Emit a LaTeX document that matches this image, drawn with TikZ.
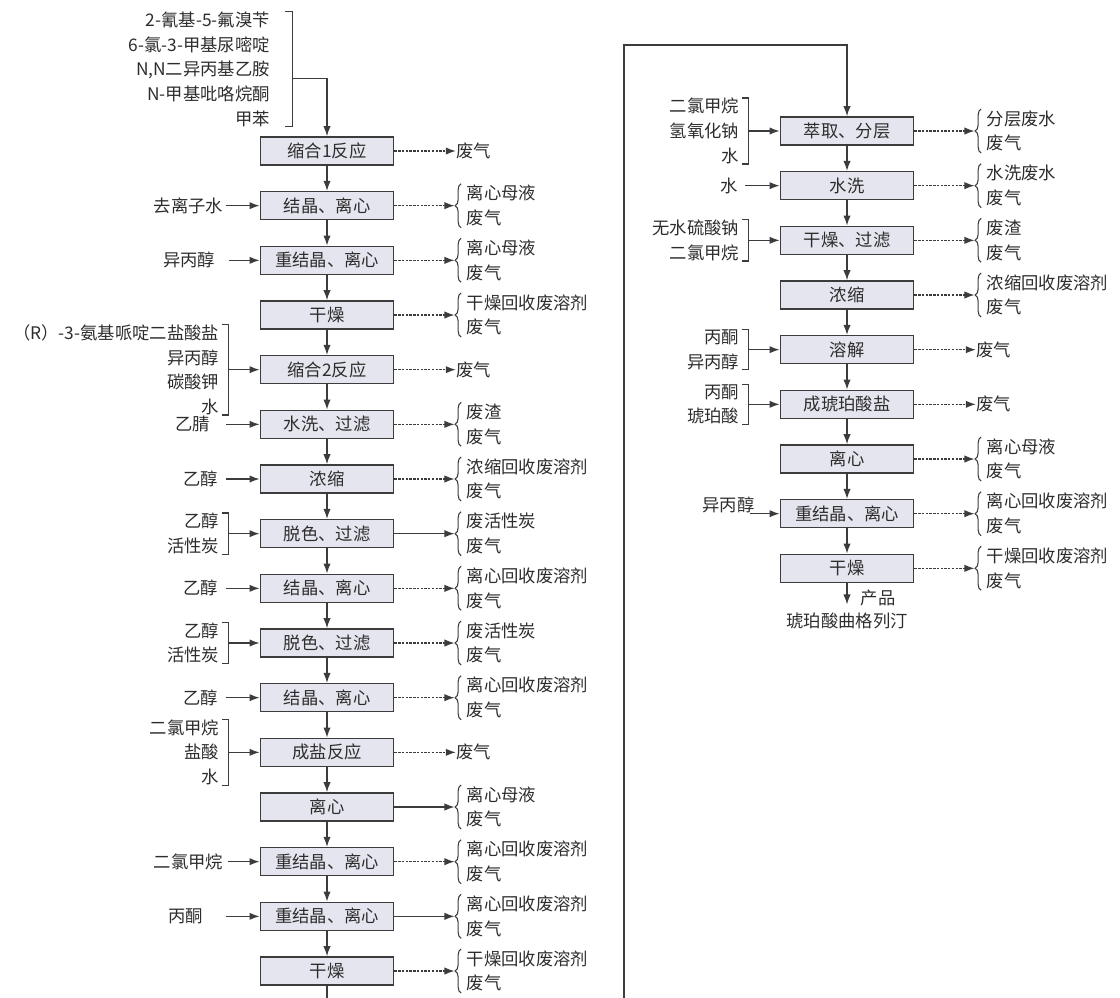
\documentclass[tikz,border=0pt]{standalone}
\usepackage{fontspec}
\setmainfont{Noto Sans CJK SC}
\usetikzlibrary{arrows.meta, positioning, calc, decorations.pathreplacing}
\definecolor{cBox}{RGB}{229,229,239}
\definecolor{cLine}{RGB}{60,60,60}
\definecolor{cText}{RGB}{45,45,45}
\tikzset{
  txt/.style={font=\fontsize{13}{18.5}\selectfont, text=cText},
  stepbox/.style={rectangle, draw=cLine, line width=1.2pt, fill=cBox,
                  minimum width=100pt, minimum height=21pt, inner sep=0pt, txt},
  innode/.style={inner sep=0pt, align=right, txt},
  outnode/.style={inner sep=0pt, align=left, txt},
  arrow/.style={-{Latex[length=7.5pt,width=5.5pt]}, line width=0.9pt, color=cLine},
  inarrow/.style={arrow, shorten <=2pt},
  dotarrow/.style={arrow, dash pattern=on 1.8pt off 1pt},
  bracket/.style={line width=0.9pt, color=cLine},
  curly/.style={line width=0.8pt, color=cLine, decorate,
                decoration={brace, amplitude=4.5pt}}
}
\begin{document}
\begin{tikzpicture}[x=0.75pt, y=-0.75pt, node distance=18.8pt]
  \useasboundingbox (0,0) rectangle (1120,997);
  \clip (0,0) rectangle (1120,997);

  % left column
  \node[stepbox] (s1) at (327,151) {缩合1反应};
  \node[stepbox, below=of s1] (s2) {结晶、离心};
  \node[stepbox, below=of s2] (s3) {重结晶、离心};
  \node[stepbox, below=of s3] (s4) {干燥};
  \node[stepbox, below=of s4] (s5) {缩合2反应};
  \node[stepbox, below=of s5] (s6) {水洗、过滤};
  \node[stepbox, below=of s6] (s7) {浓缩};
  \node[stepbox, below=of s7] (s8) {脱色、过滤};
  \node[stepbox, below=of s8] (s9) {结晶、离心};
  \node[stepbox, below=of s9] (s10) {脱色、过滤};
  \node[stepbox, below=of s10] (s11) {结晶、离心};
  \node[stepbox, below=of s11] (s12) {成盐反应};
  \node[stepbox, below=of s12] (s13) {离心};
  \node[stepbox, below=of s13] (s14) {重结晶、离心};
  \node[stepbox, below=of s14] (s15) {重结晶、离心};
  \node[stepbox, below=of s15] (s16) {干燥};
  \foreach \i in {1,...,15} {
    \pgfmathtruncatemacro\j{\i+1}
    \draw[arrow] (s\i) -- (s\j);
  }

  % right column
  \node[stepbox] (t1) at (847,131) {萃取、分层};
  \node[stepbox, below=of t1] (t2) {水洗};
  \node[stepbox, below=of t2] (t3) {干燥、过滤};
  \node[stepbox, below=of t3] (t4) {浓缩};
  \node[stepbox, below=of t4] (t5) {溶解};
  \node[stepbox, below=of t5] (t6) {成琥珀酸盐};
  \node[stepbox, below=of t6] (t7) {离心};
  \node[stepbox, below=of t7] (t8) {重结晶、离心};
  \node[stepbox, below=of t8] (t9) {干燥};
  \foreach \i in {1,...,8} {
    \pgfmathtruncatemacro\j{\i+1}
    \draw[arrow] (t\i) -- (t\j);
  }

  % link between the columns
  \coordinate (top) at (624,45);
  \draw[arrow] (s16.south) -- ++(0,-30pt) -| (top) -| (t1.north);

  % product
  \node[txt, inner sep=0pt, below=22pt of t9] (prod) {琥珀酸曲格列汀};
  \draw[arrow, shorten >=6pt] (t9) -- node[txt, right=10pt, inner sep=0pt] {产品} (prod);

  % left inputs
  \node[innode, anchor=south east] (i1) at ($(s1.north west)+(8pt,7pt)$)
    {2-氰基-5-氟溴苄\\6-氯-3-甲基尿嘧啶\\N,N二异丙基乙胺\\N-甲基吡咯烷酮\\甲苯};
  \draw[bracket] ([xshift=11pt]i1.north east) -- ++(5.5pt,0) coordinate (k1)
    -- (k1 |- i1.south east) -- ++(-5.5pt,0);
  \draw[arrow] ($(k1 |- i1.east)+(0,-7pt)$) -| (s1.north);

  \node[innode, left=27pt of s2] (i2) {去离子水};
  \draw[inarrow] (i2) -- (s2);
  \node[innode, left=33pt of s3] (i3) {异丙醇};
  \draw[inarrow, shorten <=10pt] (i3) -- (s3);

  \node[innode, left=30pt of s5] (i5) {（R）-3-氨基哌啶二盐酸盐\\异丙醇\\碳酸钾\\水};
  \draw[bracket] ([xshift=2pt]i5.north east) -- ++(5pt,0) coordinate (k5)
    -- (k5 |- i5.south east) -- ++(-5pt,0);
  \draw[arrow] (k5 |- s5.west) -- (s5);

  \node[innode, left=37pt of s6] (i6) {乙腈};
  \draw[inarrow, shorten <=12pt] (i6) -- (s6);
  \node[innode, left=31pt of s7] (i7) {乙醇};
  \draw[inarrow, shorten <=6pt] (i7) -- (s7);

  \node[innode, left=30pt of s8] (i8) {乙醇\\活性炭};
  \draw[bracket] ([xshift=2pt]i8.north east) -- ++(5pt,0) coordinate (k8)
    -- (k8 |- i8.south east) -- ++(-5pt,0);
  \draw[arrow] (k8 |- s8.west) -- (s8);

  \node[innode, left=31pt of s9] (i9) {乙醇};
  \draw[inarrow, shorten <=6pt] (i9) -- (s9);

  \node[innode, left=30pt of s10] (i10) {乙醇\\活性炭};
  \draw[bracket] ([xshift=2pt]i10.north east) -- ++(5pt,0) coordinate (k10)
    -- (k10 |- i10.south east) -- ++(-5pt,0);
  \draw[arrow] (k10 |- s10.west) -- (s10);

  \node[innode, left=31pt of s11] (i11) {乙醇};
  \draw[inarrow, shorten <=6pt] (i11) -- (s11);

  \node[innode, left=30pt of s12] (i12) {二氯甲烷\\盐酸\\水};
  \draw[bracket] ([xshift=2pt]i12.north east) -- ++(5pt,0) coordinate (k12)
    -- (k12 |- i12.south east) -- ++(-5pt,0);
  \draw[arrow] (k12 |- s12.west) -- (s12);

  \node[innode, left=27pt of s14] (i14) {二氯甲烷};
  \draw[inarrow, shorten <=3pt] (i14) -- (s14);
  \node[innode, left=42pt of s15] (i15) {丙酮};
  \draw[inarrow, shorten <=17pt] (i15) -- (s15);

  % right inputs
  \node[innode, left=30pt of t1] (j1) {二氯甲烷\\氢氧化钠\\水};
  \draw[bracket] ([xshift=2pt]j1.north east) -- ++(5pt,0) coordinate (m1)
    -- (m1 |- j1.south east) -- ++(-5pt,0);
  \draw[arrow] (m1 |- t1.west) -- (t1);

  \node[innode, left=31pt of t2] (j2) {水};
  \draw[inarrow, shorten <=5pt] (j2) -- (t2);

  \node[innode, left=30pt of t3] (j3) {无水硫酸钠\\二氯甲烷};
  \draw[bracket] ([xshift=2pt]j3.north east) -- ++(5pt,0) coordinate (m3)
    -- (m3 |- j3.south east) -- ++(-5pt,0);
  \draw[arrow] (m3 |- t3.west) -- (t3);

  \node[innode, left=30pt of t5] (j5) {丙酮\\异丙醇};
  \draw[bracket] ([xshift=2pt]j5.north east) -- ++(5pt,0) coordinate (m5)
    -- (m5 |- j5.south east) -- ++(-5pt,0);
  \draw[arrow] (m5 |- t5.west) -- (t5);

  \node[innode, left=30pt of t6] (j6) {丙酮\\琥珀酸};
  \draw[bracket] ([xshift=2pt]j6.north east) -- ++(5pt,0) coordinate (m6)
    -- (m6 |- j6.south east) -- ++(-5pt,0);
  \draw[arrow] (m6 |- t6.west) -- (t6);

  \coordinate (a8) at ($(t8.west)+(-22.5pt,0)$);
  \node[innode, anchor=base east] (j8) at ($(a8)+(4pt,1.5pt)$) {异丙醇};
  \draw[arrow] (a8) -- (t8);

  % left outputs
  \node[outnode, right=46pt of s1] (o1) {废气};
  \draw[dotarrow] (s1) -- (o1);
  \node[outnode, right=46pt of s5] (o5) {废气};
  \draw[dotarrow] (s5) -- (o5);
  \node[outnode, right=46pt of s12] (o12) {废气};
  \draw[dotarrow] (s12) -- (o12);

  \foreach \n/\txt/\sty in {2/离心母液/dotarrow, 3/离心母液/dotarrow,
      4/干燥回收废溶剂/dotarrow, 6/废渣/dotarrow, 7/浓缩回收废溶剂/dotarrow,
      8/废活性炭/arrow, 9/离心回收废溶剂/dotarrow, 10/废活性炭/dotarrow,
      11/离心回收废溶剂/dotarrow, 13/离心母液/arrow, 14/离心回收废溶剂/dotarrow,
      15/离心回收废溶剂/arrow, 16/干燥回收废溶剂/dotarrow} {
    \node[outnode, right=54pt of s\n] (o\n) {\txt\\废气};
    \draw[curly] ([xshift=-4pt,yshift=-1pt]o\n.south west) -- ([xshift=-4pt,yshift=1pt]o\n.north west);
    \draw[\sty] (s\n.east) -- ([xshift=-9pt]o\n.west);
  }

  % right outputs
  \node[outnode, right=46pt of t5] (p5) {废气};
  \draw[dotarrow] (t5) -- (p5);
  \node[outnode, right=46pt of t6] (p6) {废气};
  \draw[dotarrow] (t6) -- (p6);

  \foreach \n/\txt in {1/分层废水, 2/水洗废水, 3/废渣, 4/浓缩回收废溶剂,
      7/离心母液, 8/离心回收废溶剂, 9/干燥回收废溶剂} {
    \node[outnode, right=54pt of t\n] (p\n) {\txt\\废气};
    \draw[curly] ([xshift=-4pt,yshift=-1pt]p\n.south west) -- ([xshift=-4pt,yshift=1pt]p\n.north west);
    \draw[dotarrow] (t\n.east) -- ([xshift=-9pt]p\n.west);
  }
\end{tikzpicture}
\end{document}
